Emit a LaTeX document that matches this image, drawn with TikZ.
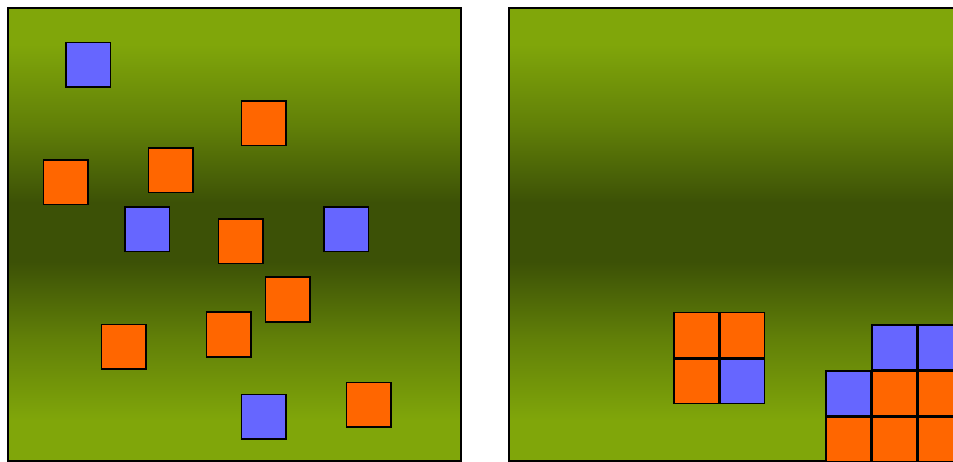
\documentclass[tikz,border=0pt]{standalone}
\definecolor{glight}{HTML}{80A60A}
\definecolor{gdark}{HTML}{3C5106}
\colorlet{gmid}{glight!55!gdark}
\definecolor{sqorange}{HTML}{FF6600}
\definecolor{sqblue}{HTML}{6666FF}
\pgfdeclareverticalshading{panelshade}{100bp}{color(0bp)=(glight); color(29.5bp)=(glight); color(38.5bp)=(gmid); color(47bp)=(gdark); color(53.5bp)=(gdark); color(62bp)=(gmid); color(71bp)=(glight); color(100bp)=(glight)}
\tikzset{
  cell/.style={draw=black, line width=1.5pt, minimum size=44.5pt, inner sep=0pt, outer sep=0pt},
  ob/.style={cell, fill=sqorange},
  bb/.style={cell, fill=sqblue},
  panel/.style={draw=black, line width=1.3pt, shading=panelshade}
}
\begin{document}
\begin{tikzpicture}[x=1pt,y=-1pt]
\useasboundingbox (0,0) rectangle (953,462);
\clip (0,0) rectangle (953,462);
\fill[white] (0,0) rectangle (953,462);
% panels
\shade[panel] (8,8) rectangle (461,461);
\shade[panel] (509,8) rectangle (962,461);
% left panel squares
\node[bb] (l1) at (88,65) {};
\node[ob] (l2) at (263.5,123.5) {};
\node[ob] (l3) at (65.5,182.5) {};
\node[ob] (l4) at (170.5,170.5) {};
\node[bb] (l5) at (147,229.5) {};
\node[ob] (l6) at (240.5,241.5) {};
\node[bb] (l7) at (346,229.5) {};
\node[ob] (l8) at (287.5,299.5) {};
\node[ob] (l9) at (123.5,346.5) {};
\node[ob] (l10) at (228.5,334.5) {};
\node[bb] (l11) at (263.5,416.5) {};
\node[ob] (l12) at (368.5,404.5) {};
% right panel squares
\node[ob] (r1) at (696,335) {};
\node[ob] (r2) at (742,335) {};
\node[ob] (r3) at (696,381) {};
\node[bb] (r4) at (742,381) {};
\node[bb] (r5) at (894,347) {};
\node[bb] (r6) at (940,347) {};
\node[bb] (r7) at (848,393) {};
\node[ob] (r8) at (894,393) {};
\node[ob] (r9) at (940,393) {};
\node[ob] (r10) at (848,439) {};
\node[ob] (r11) at (894,439) {};
\node[ob] (r12) at (940,439) {};
\end{tikzpicture}
\end{document}
